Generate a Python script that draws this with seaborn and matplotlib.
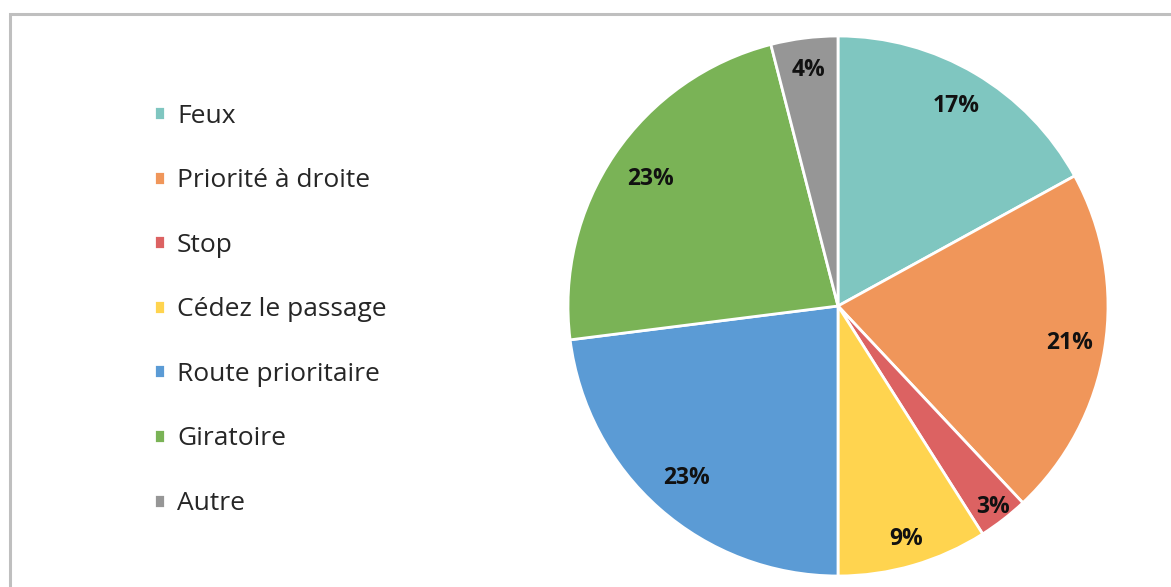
import matplotlib
matplotlib.use("Agg")
import matplotlib.pyplot as plt
import seaborn as sns
import numpy as np
from matplotlib.patches import Rectangle

categories = ["Feux", "Priorité à droite", "Stop", "Cédez le passage",
              "Route prioritaire", "Giratoire", "Autre"]
shares = [17, 21, 3, 9, 23, 23, 4]
colors = ["#7fc6c0", "#f0965a", "#dc6262", "#ffd44f", "#5b9bd5", "#7ab356", "#969696"]
label_dist = [0.86, 0.87, 0.94, 0.9, 0.85, 0.84, 0.88]

sns.set_theme(style="white")
plt.rcParams["font.family"] = ["Open Sans", "DejaVu Sans"]

fig = plt.figure(figsize=(11.71, 5.87), dpi=100)

# grey frame, right/bottom edges fall outside the picture
fig.patches.append(Rectangle((10 / 1171, -0.1), 1.2, 1 - 14 / 587 + 0.1,
                             transform=fig.transFigure, fill=False,
                             edgecolor="#bfbfbf", linewidth=2.2))

ax = fig.add_axes([568 / 1171, 11 / 587, 540 / 1171, 540 / 587])
wedges, _ = ax.pie(shares, colors=colors, startangle=90, counterclock=False,
                   radius=1, wedgeprops=dict(edgecolor="white", linewidth=2))
ax.set_xlim(-1, 1)
ax.set_ylim(-1, 1)
ax.set_aspect("equal")
ax.axis("off")

for w, v, d in zip(wedges, shares, label_dist):
    mid = np.deg2rad((w.theta1 + w.theta2) / 2)
    ax.text(d * np.cos(mid), d * np.sin(mid), f"{v}%", ha="center", va="center",
            fontsize=16.5, fontweight="bold", color="#111111")

fig.legend(wedges, categories, loc="upper left",
           bbox_to_anchor=(143 / 1171, 1 - 93 / 587), frameon=False,
           fontsize=19, handlelength=0.44, handleheight=0.44,
           handletextpad=0.45, labelspacing=1.5, borderaxespad=0)

fig.savefig("out.png", dpi=100)
